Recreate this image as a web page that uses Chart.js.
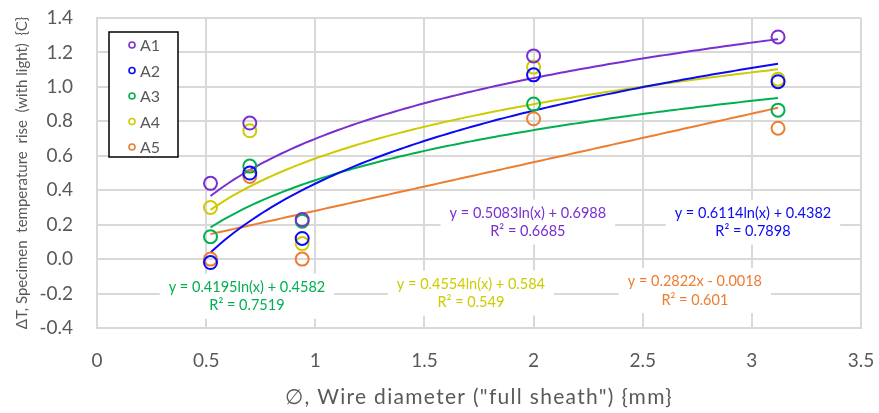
<!DOCTYPE html>
<html>
<head>
<meta charset="utf-8">
<script src="https://cdn.jsdelivr.net/npm/chart.js@4.4.0/dist/chart.umd.min.js"></script>
<style>
  html, body { margin: 0; padding: 0; background: #fff; }
  #wrap { width: 879px; height: 413px; }
</style>
</head>
<body>
<div id="wrap"><canvas id="grafico" width="879" height="413"></canvas></div>
<script>
// dados
const diametros = [0.52, 0.70, 0.94, 2.0, 3.12];
const serieA1 = [0.44, 0.79, 0.23, 1.18, 1.29];
const serieA2 = [-0.02, 0.50, 0.12, 1.07, 1.03];
const serieA3 = [0.13, 0.54, 0.22, 0.90, 0.865];
const serieA4 = [0.30, 0.745, 0.09, 1.115, 1.045];
const serieA5 = [0.00, 0.48, 0.00, 0.815, 0.76];

const nomes = ['A1', 'A2', 'A3', 'A4', 'A5'];
const cores = ['#7A2FD0', '#0A0AF5', '#00B050', '#CCCC00', '#ED7D31'];

// linhas de tendencia (equacoes mostradas no grafico)
const tipoTendencia = ['log', 'log', 'log', 'log', 'linear'];
const coefA = [0.5083, 0.6114, 0.4195, 0.4554, 0.2822];
const coefB = [0.6988, 0.4382, 0.4582, 0.584, -0.0018];
const valoresR2 = ['0.6685', '0.7898', '0.7519', '0.549', '0.601'];

// posicao das caixas de equacao (em unidades do grafico)
const rotuloX = [1.974, 3.005, 0.687, 1.713, 2.739];
const rotuloY = [0.212, 0.212, -0.218, -0.200, -0.186];

const ticksX = [0, 0.5, 1, 1.5, 2, 2.5, 3, 3.5];
const ticksY = [-0.4, -0.2, 0, 0.2, 0.4, 0.6, 0.8, 1.0, 1.2, 1.4];

const tituloX = '\u2205, Wire diameter ("full sheath") {mm}';
const tituloY = '\u0394T, Specimen  temperature  rise  (with light)  {C}';

const series = [serieA1, serieA2, serieA3, serieA4, serieA5];
const fonte = 'Lato, Carlito, "Open Sans", sans-serif';
const cinza = '#595959';

function tendencia(i) {
  const xmin = Math.min(...diametros);
  const xmax = Math.max(...diametros);
  const pts = [];
  const n = 120;
  for (let k = 0; k <= n; k++) {
    const x = xmin + (xmax - xmin) * k / n;
    const y = tipoTendencia[i] === 'log' ? coefA[i] * Math.log(x) + coefB[i] : coefA[i] * x + coefB[i];
    pts.push({ x: x, y: y });
  }
  return pts;
}

function equacao(i) {
  const b = coefB[i];
  const sinal = b < 0 ? ' - ' : ' + ';
  const termo = tipoTendencia[i] === 'log' ? coefA[i] + 'ln(x)' : coefA[i] + 'x';
  return 'y = ' + termo + sinal + Math.abs(b);
}

const datasets = [];
nomes.forEach((nome, i) => {
  datasets.push({
    label: nome,
    data: diametros.map((x, k) => ({ x: x, y: series[i][k] })),
    borderColor: cores[i],
    backgroundColor: 'rgba(0,0,0,0)',
    pointRadius: 6.5,
    pointBorderWidth: 2,
    pointHoverRadius: 6.5,
    showLine: false,
    order: 1
  });
});
nomes.forEach((nome, i) => {
  datasets.push({
    label: 'tend ' + nome,
    data: tendencia(i),
    borderColor: cores[i],
    borderWidth: 2,
    pointRadius: 0,
    showLine: true,
    fill: false,
    order: 2
  });
});

// caixas com as equacoes
const pluginEquacoes = {
  id: 'equacoes',
  beforeDatasetsDraw(chart) {
    const ctx = chart.ctx;
    const sx = chart.scales.x, sy = chart.scales.y;
    ctx.save();
    ctx.font = '14.5px ' + fonte;
    ctx.textAlign = 'center';
    ctx.textBaseline = 'middle';
    nomes.forEach((n, i) => {
      const cx = sx.getPixelForValue(rotuloX[i]);
      const cy = sy.getPixelForValue(rotuloY[i]);
      const l1 = equacao(i);
      const l2 = 'R\u00B2 = ' + valoresR2[i];
      const w = Math.max(ctx.measureText(l1).width, ctx.measureText(l2).width);
      ctx.fillStyle = '#fff';
      ctx.fillRect(cx - w / 2 - 9, cy - 23, w + 18, 45);
      ctx.fillStyle = cores[i];
      ctx.fillText(l1, cx, cy - 9.5);
      ctx.fillText(l2, cx, cy + 9);
    });
    ctx.restore();
  }
};

// legenda dentro da area do grafico + titulo do eixo x
const pluginLegenda = {
  id: 'legendaCaixa',
  afterDraw(chart) {
    const ctx = chart.ctx;
    const a = chart.chartArea;
    const x0 = a.left + 12, y0 = a.top + 14;
    ctx.save();
    ctx.fillStyle = '#fff';
    ctx.fillRect(x0, y0, 69, 125);
    ctx.strokeStyle = '#000';
    ctx.lineWidth = 1.5;
    ctx.strokeRect(x0, y0, 69, 125);
    ctx.font = '16px ' + fonte;
    ctx.textBaseline = 'middle';
    ctx.textAlign = 'left';
    nomes.forEach((n, i) => {
      const y = y0 + 13 + i * 25.5;
      ctx.beginPath();
      ctx.arc(x0 + 23, y, 3, 0, Math.PI * 2);
      ctx.strokeStyle = cores[i];
      ctx.lineWidth = 1.6;
      ctx.stroke();
      ctx.fillStyle = cinza;
      ctx.fillText(n, x0 + 31, y + 1);
    });

    // titulo x com espacamento entre letras, como no original
    ctx.font = '21px ' + fonte;
    ctx.letterSpacing = '1.3px';
    ctx.textAlign = 'center';
    ctx.fillStyle = cinza;
    ctx.fillText(tituloX, (a.left + a.right) / 2, 397);
    ctx.restore();
  }
};

new Chart(document.getElementById('grafico'), {
  type: 'scatter',
  data: { datasets: datasets },
  options: {
    responsive: false,
    animation: false,
    devicePixelRatio: 1,
    layout: { padding: { left: 0, right: 18, top: 18, bottom: 0 } },
    plugins: {
      legend: { display: false },
      tooltip: { enabled: false }
    },
    scales: {
      x: {
        type: 'linear',
        min: 0,
        max: 3.5,
        afterBuildTicks: (s) => { s.ticks = ticksX.map(v => ({ value: v })); },
        afterFit: (s) => { s.height = 85; s.paddingLeft = 0; s.paddingRight = 0; },
        grid: { color: '#d9d9d9', lineWidth: 2, drawTicks: false },
        border: { color: '#d9d9d9', width: 2 },
        ticks: {
          color: cinza,
          font: { family: fonte, size: 19 },
          padding: 21,
          callback: (v) => String(v)
        },
        title: { display: false }
      },
      y: {
        type: 'linear',
        min: -0.4,
        max: 1.4,
        afterBuildTicks: (s) => { s.ticks = ticksY.map(v => ({ value: v })); },
        afterFit: (s) => { s.width = 97; s.paddingTop = 0; s.paddingBottom = 0; },
        grid: { color: '#d9d9d9', lineWidth: 2, drawTicks: false },
        border: { color: '#d9d9d9', width: 2 },
        ticks: {
          color: cinza,
          font: { family: fonte, size: 19 },
          padding: 24,
          callback: (v) => v.toFixed(1)
        },
        title: {
          display: true,
          text: tituloY,
          color: cinza,
          font: { family: fonte, size: 15 },
          padding: { top: 13, bottom: 0 }
        }
      }
    }
  },
  plugins: [pluginEquacoes, pluginLegenda]
});
</script>
</body>
</html>
